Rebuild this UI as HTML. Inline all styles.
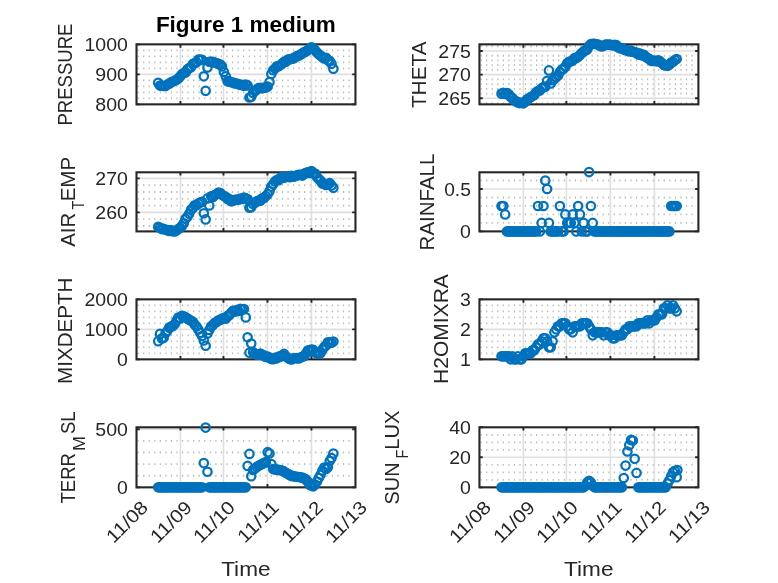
<!DOCTYPE html>
<html lang="en"><head><meta charset="utf-8"><title>Figure 1 medium</title>
<style>html,body{margin:0;padding:0;background:#fff}svg{display:block}</style></head>
<body>
<svg width="778" height="583" viewBox="0 0 778 583" font-family='"Liberation Sans", "DejaVu Sans", sans-serif' fill="#262626">
<rect width="778" height="583" fill="#fff"/>
<g><path d="M137.55 50.35H353.95M137.55 56.35H353.95M137.55 62.35H353.95M137.55 68.35H353.95M137.55 80.35H353.95M137.55 86.35H353.95M137.55 92.35H353.95M137.55 98.35H353.95" stroke="#b8b8b8" stroke-width="1.8" stroke-dasharray="1.2 4.351" fill="none"/><path d="M180.45 44.35V104.35M223.45 44.35V104.35M267.45 44.35V104.35M311.45 44.35V104.35M136.50 74.35H355.45" stroke="#dfdfdf" stroke-width="1.6" fill="none"/><rect x="136.50" y="44.35" width="218.95" height="60.00" fill="none" stroke="#262626" stroke-width="2.1"/><path d="M180.45 44.35v3.3M180.45 104.35v-3.3M223.45 44.35v3.3M223.45 104.35v-3.3M267.45 44.35v3.3M267.45 104.35v-3.3M311.45 44.35v3.3M311.45 104.35v-3.3M136.50 44.35h3.3M355.45 44.35h-3.3M136.50 74.35h3.3M355.45 74.35h-3.3M136.50 104.35h3.3M355.45 104.35h-3.3" stroke="#262626" stroke-width="1.9" fill="none"/><g fill="none" stroke="#0072BD" stroke-width="2.25"><circle cx="158.20" cy="82.84" r="4.2"/><circle cx="160.02" cy="85.56" r="4.2"/><circle cx="161.85" cy="85.77" r="4.2"/><circle cx="163.67" cy="85.95" r="4.2"/><circle cx="165.50" cy="85.98" r="4.2"/><circle cx="167.32" cy="84.52" r="4.2"/><circle cx="169.15" cy="83.79" r="4.2"/><circle cx="170.97" cy="82.35" r="4.2"/><circle cx="172.80" cy="81.56" r="4.2"/><circle cx="174.62" cy="80.74" r="4.2"/><circle cx="176.45" cy="79.78" r="4.2"/><circle cx="178.27" cy="78.58" r="4.2"/><circle cx="180.09" cy="76.40" r="4.2"/><circle cx="181.92" cy="74.23" r="4.2"/><circle cx="183.74" cy="72.96" r="4.2"/><circle cx="185.57" cy="72.39" r="4.2"/><circle cx="187.39" cy="69.39" r="4.2"/><circle cx="189.22" cy="68.07" r="4.2"/><circle cx="191.04" cy="67.23" r="4.2"/><circle cx="192.87" cy="63.92" r="4.2"/><circle cx="194.69" cy="63.27" r="4.2"/><circle cx="196.52" cy="62.22" r="4.2"/><circle cx="198.34" cy="59.67" r="4.2"/><circle cx="200.17" cy="59.49" r="4.2"/><circle cx="201.99" cy="59.83" r="4.2"/><circle cx="203.81" cy="76.30" r="4.2"/><circle cx="205.64" cy="90.80" r="4.2"/><circle cx="207.46" cy="67.40" r="4.2"/><circle cx="209.29" cy="61.75" r="4.2"/><circle cx="211.11" cy="61.84" r="4.2"/><circle cx="212.94" cy="61.82" r="4.2"/><circle cx="214.76" cy="62.78" r="4.2"/><circle cx="216.59" cy="63.02" r="4.2"/><circle cx="218.41" cy="63.88" r="4.2"/><circle cx="220.24" cy="64.63" r="4.2"/><circle cx="222.06" cy="66.44" r="4.2"/><circle cx="223.88" cy="72.02" r="4.2"/><circle cx="225.71" cy="76.27" r="4.2"/><circle cx="227.53" cy="81.27" r="4.2"/><circle cx="229.36" cy="81.39" r="4.2"/><circle cx="231.18" cy="82.21" r="4.2"/><circle cx="233.01" cy="82.54" r="4.2"/><circle cx="234.83" cy="83.54" r="4.2"/><circle cx="236.66" cy="83.48" r="4.2"/><circle cx="238.48" cy="84.10" r="4.2"/><circle cx="240.31" cy="85.02" r="4.2"/><circle cx="242.13" cy="84.93" r="4.2"/><circle cx="243.96" cy="85.80" r="4.2"/><circle cx="245.78" cy="84.46" r="4.2"/><circle cx="247.60" cy="85.44" r="4.2"/><circle cx="249.43" cy="97.50" r="4.2"/><circle cx="251.25" cy="96.69" r="4.2"/><circle cx="253.08" cy="93.00" r="4.2"/><circle cx="254.90" cy="90.93" r="4.2"/><circle cx="256.73" cy="89.55" r="4.2"/><circle cx="258.55" cy="88.02" r="4.2"/><circle cx="260.38" cy="87.70" r="4.2"/><circle cx="262.20" cy="88.34" r="4.2"/><circle cx="264.03" cy="87.64" r="4.2"/><circle cx="265.85" cy="87.58" r="4.2"/><circle cx="267.67" cy="86.50" r="4.2"/><circle cx="269.50" cy="82.11" r="4.2"/><circle cx="271.32" cy="73.99" r="4.2"/><circle cx="273.15" cy="70.27" r="4.2"/><circle cx="274.97" cy="68.57" r="4.2"/><circle cx="276.80" cy="66.23" r="4.2"/><circle cx="278.62" cy="66.28" r="4.2"/><circle cx="280.45" cy="64.98" r="4.2"/><circle cx="282.27" cy="63.55" r="4.2"/><circle cx="284.10" cy="61.75" r="4.2"/><circle cx="285.92" cy="61.68" r="4.2"/><circle cx="287.75" cy="59.67" r="4.2"/><circle cx="289.57" cy="59.25" r="4.2"/><circle cx="291.39" cy="58.80" r="4.2"/><circle cx="293.22" cy="58.56" r="4.2"/><circle cx="295.04" cy="57.37" r="4.2"/><circle cx="296.87" cy="56.00" r="4.2"/><circle cx="298.69" cy="55.64" r="4.2"/><circle cx="300.52" cy="54.58" r="4.2"/><circle cx="302.34" cy="53.44" r="4.2"/><circle cx="304.17" cy="52.11" r="4.2"/><circle cx="305.99" cy="51.47" r="4.2"/><circle cx="307.82" cy="49.99" r="4.2"/><circle cx="309.64" cy="48.75" r="4.2"/><circle cx="311.46" cy="47.29" r="4.2"/><circle cx="313.29" cy="48.59" r="4.2"/><circle cx="315.11" cy="50.26" r="4.2"/><circle cx="316.94" cy="52.53" r="4.2"/><circle cx="318.76" cy="54.34" r="4.2"/><circle cx="320.59" cy="55.58" r="4.2"/><circle cx="322.41" cy="57.30" r="4.2"/><circle cx="324.24" cy="58.46" r="4.2"/><circle cx="326.06" cy="57.75" r="4.2"/><circle cx="327.89" cy="60.17" r="4.2"/><circle cx="329.71" cy="61.03" r="4.2"/><circle cx="331.54" cy="63.77" r="4.2"/><circle cx="333.36" cy="68.64" r="4.2"/></g><text x="84.50" y="50.85" font-size="18.5" textLength="43.40" lengthAdjust="spacingAndGlyphs">1000</text><text x="95.35" y="80.85" font-size="18.5" textLength="32.55" lengthAdjust="spacingAndGlyphs">900</text><text x="95.35" y="110.85" font-size="18.5" textLength="32.55" lengthAdjust="spacingAndGlyphs">800</text><text transform="translate(72.40 125.60) rotate(-90)"><tspan x="0.00" y="0.00" font-size="21.0" textLength="102.10" lengthAdjust="spacingAndGlyphs">PRESSURE</tspan></text><text x="155.9" y="31.9" font-size="21.4" font-weight="bold" fill="#000" textLength="179.8" lengthAdjust="spacingAndGlyphs">Figure 1 medium</text></g>
<g><path d="M137.55 185.20H353.95M137.55 192.00H353.95M137.55 198.80H353.95M137.55 205.60H353.95M137.55 219.20H353.95M137.55 226.00H353.95" stroke="#b8b8b8" stroke-width="1.8" stroke-dasharray="1.2 4.351" fill="none"/><path d="M180.45 172.30V231.40M223.45 172.30V231.40M267.45 172.30V231.40M311.45 172.30V231.40M136.50 178.40H355.45M136.50 212.40H355.45" stroke="#dfdfdf" stroke-width="1.6" fill="none"/><rect x="136.50" y="172.30" width="218.95" height="59.10" fill="none" stroke="#262626" stroke-width="2.1"/><path d="M180.45 172.30v3.3M180.45 231.40v-3.3M223.45 172.30v3.3M223.45 231.40v-3.3M267.45 172.30v3.3M267.45 231.40v-3.3M311.45 172.30v3.3M311.45 231.40v-3.3M136.50 178.40h3.3M355.45 178.40h-3.3M136.50 212.40h3.3M355.45 212.40h-3.3" stroke="#262626" stroke-width="1.9" fill="none"/><g fill="none" stroke="#0072BD" stroke-width="2.25"><circle cx="158.20" cy="226.70" r="4.2"/><circle cx="160.02" cy="227.71" r="4.2"/><circle cx="161.85" cy="229.08" r="4.2"/><circle cx="163.67" cy="228.71" r="4.2"/><circle cx="165.50" cy="229.77" r="4.2"/><circle cx="167.32" cy="230.15" r="4.2"/><circle cx="169.15" cy="230.90" r="4.2"/><circle cx="170.97" cy="230.13" r="4.2"/><circle cx="172.80" cy="231.24" r="4.2"/><circle cx="174.62" cy="231.37" r="4.2"/><circle cx="176.45" cy="230.51" r="4.2"/><circle cx="178.27" cy="228.95" r="4.2"/><circle cx="180.09" cy="227.82" r="4.2"/><circle cx="181.92" cy="226.06" r="4.2"/><circle cx="183.74" cy="223.22" r="4.2"/><circle cx="185.57" cy="218.70" r="4.2"/><circle cx="187.39" cy="216.79" r="4.2"/><circle cx="189.22" cy="213.70" r="4.2"/><circle cx="191.04" cy="209.70" r="4.2"/><circle cx="192.87" cy="208.05" r="4.2"/><circle cx="194.69" cy="205.29" r="4.2"/><circle cx="196.52" cy="205.23" r="4.2"/><circle cx="198.34" cy="203.60" r="4.2"/><circle cx="200.17" cy="202.47" r="4.2"/><circle cx="201.99" cy="201.89" r="4.2"/><circle cx="203.81" cy="213.20" r="4.2"/><circle cx="205.64" cy="219.40" r="4.2"/><circle cx="207.46" cy="198.43" r="4.2"/><circle cx="209.29" cy="205.50" r="4.2"/><circle cx="211.11" cy="196.35" r="4.2"/><circle cx="212.94" cy="196.89" r="4.2"/><circle cx="214.76" cy="195.12" r="4.2"/><circle cx="216.59" cy="194.10" r="4.2"/><circle cx="218.41" cy="192.50" r="4.2"/><circle cx="220.24" cy="193.02" r="4.2"/><circle cx="222.06" cy="194.81" r="4.2"/><circle cx="223.88" cy="196.03" r="4.2"/><circle cx="225.71" cy="196.80" r="4.2"/><circle cx="227.53" cy="198.94" r="4.2"/><circle cx="229.36" cy="198.96" r="4.2"/><circle cx="231.18" cy="201.35" r="4.2"/><circle cx="233.01" cy="200.71" r="4.2"/><circle cx="234.83" cy="199.81" r="4.2"/><circle cx="236.66" cy="199.83" r="4.2"/><circle cx="238.48" cy="199.66" r="4.2"/><circle cx="240.31" cy="198.48" r="4.2"/><circle cx="242.13" cy="198.95" r="4.2"/><circle cx="243.96" cy="197.59" r="4.2"/><circle cx="245.78" cy="198.41" r="4.2"/><circle cx="247.60" cy="199.03" r="4.2"/><circle cx="249.43" cy="207.64" r="4.2"/><circle cx="251.25" cy="207.20" r="4.2"/><circle cx="253.08" cy="203.88" r="4.2"/><circle cx="254.90" cy="202.61" r="4.2"/><circle cx="256.73" cy="201.50" r="4.2"/><circle cx="258.55" cy="200.61" r="4.2"/><circle cx="260.38" cy="200.67" r="4.2"/><circle cx="262.20" cy="198.35" r="4.2"/><circle cx="264.03" cy="197.88" r="4.2"/><circle cx="265.85" cy="196.09" r="4.2"/><circle cx="267.67" cy="194.18" r="4.2"/><circle cx="269.50" cy="191.13" r="4.2"/><circle cx="271.32" cy="186.57" r="4.2"/><circle cx="273.15" cy="184.19" r="4.2"/><circle cx="274.97" cy="181.44" r="4.2"/><circle cx="276.80" cy="180.04" r="4.2"/><circle cx="278.62" cy="180.28" r="4.2"/><circle cx="280.45" cy="177.79" r="4.2"/><circle cx="282.27" cy="176.85" r="4.2"/><circle cx="284.10" cy="177.78" r="4.2"/><circle cx="285.92" cy="176.84" r="4.2"/><circle cx="287.75" cy="176.52" r="4.2"/><circle cx="289.57" cy="177.16" r="4.2"/><circle cx="291.39" cy="175.88" r="4.2"/><circle cx="293.22" cy="176.73" r="4.2"/><circle cx="295.04" cy="176.13" r="4.2"/><circle cx="296.87" cy="175.41" r="4.2"/><circle cx="298.69" cy="174.76" r="4.2"/><circle cx="300.52" cy="174.93" r="4.2"/><circle cx="302.34" cy="175.56" r="4.2"/><circle cx="304.17" cy="173.87" r="4.2"/><circle cx="305.99" cy="172.75" r="4.2"/><circle cx="307.82" cy="172.37" r="4.2"/><circle cx="309.64" cy="172.86" r="4.2"/><circle cx="311.46" cy="171.11" r="4.2"/><circle cx="313.29" cy="173.41" r="4.2"/><circle cx="315.11" cy="173.46" r="4.2"/><circle cx="316.94" cy="176.94" r="4.2"/><circle cx="318.76" cy="178.90" r="4.2"/><circle cx="320.59" cy="180.76" r="4.2"/><circle cx="322.41" cy="183.60" r="4.2"/><circle cx="324.24" cy="183.80" r="4.2"/><circle cx="326.06" cy="184.97" r="4.2"/><circle cx="327.89" cy="184.28" r="4.2"/><circle cx="329.71" cy="183.18" r="4.2"/><circle cx="331.54" cy="185.41" r="4.2"/><circle cx="333.36" cy="187.82" r="4.2"/></g><text x="95.35" y="184.90" font-size="18.5" textLength="32.55" lengthAdjust="spacingAndGlyphs">270</text><text x="95.35" y="218.90" font-size="18.5" textLength="32.55" lengthAdjust="spacingAndGlyphs">260</text><text transform="translate(74.90 246.80) rotate(-90)"><tspan x="0.00" y="0.00" font-size="21.0" textLength="34.10" lengthAdjust="spacingAndGlyphs">AIR</tspan><tspan x="37.20" y="9.30" font-size="16.2" textLength="8.90" lengthAdjust="spacingAndGlyphs">T</tspan><tspan x="45.50" y="0.00" font-size="21.0" textLength="44.40" lengthAdjust="spacingAndGlyphs">EMP</tspan></text></g>
<g><path d="M137.55 305.35H353.95M137.55 311.35H353.95M137.55 317.35H353.95M137.55 323.35H353.95M137.55 335.35H353.95M137.55 341.35H353.95M137.55 347.35H353.95M137.55 353.35H353.95" stroke="#b8b8b8" stroke-width="1.8" stroke-dasharray="1.2 4.351" fill="none"/><path d="M180.45 299.35V359.35M223.45 299.35V359.35M267.45 299.35V359.35M311.45 299.35V359.35M136.50 329.35H355.45" stroke="#dfdfdf" stroke-width="1.6" fill="none"/><rect x="136.50" y="299.35" width="218.95" height="60.00" fill="none" stroke="#262626" stroke-width="2.1"/><path d="M180.45 299.35v3.3M180.45 359.35v-3.3M223.45 299.35v3.3M223.45 359.35v-3.3M267.45 299.35v3.3M267.45 359.35v-3.3M311.45 299.35v3.3M311.45 359.35v-3.3M136.50 299.35h3.3M355.45 299.35h-3.3M136.50 329.35h3.3M355.45 329.35h-3.3M136.50 359.35h3.3M355.45 359.35h-3.3" stroke="#262626" stroke-width="1.9" fill="none"/><g fill="none" stroke="#0072BD" stroke-width="2.25"><circle cx="158.20" cy="341.19" r="4.2"/><circle cx="160.02" cy="333.86" r="4.2"/><circle cx="161.85" cy="338.36" r="4.2"/><circle cx="163.67" cy="337.84" r="4.2"/><circle cx="165.50" cy="333.27" r="4.2"/><circle cx="167.32" cy="330.98" r="4.2"/><circle cx="169.15" cy="327.80" r="4.2"/><circle cx="170.97" cy="326.54" r="4.2"/><circle cx="172.80" cy="326.09" r="4.2"/><circle cx="174.62" cy="324.30" r="4.2"/><circle cx="176.45" cy="320.69" r="4.2"/><circle cx="178.27" cy="317.57" r="4.2"/><circle cx="180.09" cy="318.45" r="4.2"/><circle cx="181.92" cy="315.83" r="4.2"/><circle cx="183.74" cy="316.21" r="4.2"/><circle cx="185.57" cy="317.23" r="4.2"/><circle cx="187.39" cy="318.61" r="4.2"/><circle cx="189.22" cy="319.68" r="4.2"/><circle cx="191.04" cy="320.76" r="4.2"/><circle cx="192.87" cy="321.85" r="4.2"/><circle cx="194.69" cy="324.54" r="4.2"/><circle cx="196.52" cy="326.60" r="4.2"/><circle cx="198.34" cy="329.45" r="4.2"/><circle cx="200.17" cy="332.82" r="4.2"/><circle cx="201.99" cy="335.95" r="4.2"/><circle cx="203.81" cy="340.50" r="4.2"/><circle cx="205.64" cy="345.80" r="4.2"/><circle cx="207.46" cy="333.50" r="4.2"/><circle cx="209.29" cy="329.98" r="4.2"/><circle cx="211.11" cy="326.38" r="4.2"/><circle cx="212.94" cy="325.06" r="4.2"/><circle cx="214.76" cy="322.71" r="4.2"/><circle cx="216.59" cy="322.01" r="4.2"/><circle cx="218.41" cy="320.20" r="4.2"/><circle cx="220.24" cy="319.94" r="4.2"/><circle cx="222.06" cy="318.50" r="4.2"/><circle cx="223.88" cy="318.04" r="4.2"/><circle cx="225.71" cy="318.69" r="4.2"/><circle cx="227.53" cy="315.93" r="4.2"/><circle cx="229.36" cy="315.15" r="4.2"/><circle cx="231.18" cy="312.66" r="4.2"/><circle cx="233.01" cy="310.77" r="4.2"/><circle cx="234.83" cy="311.76" r="4.2"/><circle cx="236.66" cy="310.06" r="4.2"/><circle cx="238.48" cy="311.01" r="4.2"/><circle cx="240.31" cy="308.85" r="4.2"/><circle cx="242.13" cy="309.36" r="4.2"/><circle cx="243.96" cy="308.97" r="4.2"/><circle cx="245.78" cy="317.39" r="4.2"/><circle cx="247.60" cy="337.26" r="4.2"/><circle cx="249.43" cy="352.65" r="4.2"/><circle cx="251.25" cy="343.55" r="4.2"/><circle cx="253.08" cy="352.32" r="4.2"/><circle cx="254.90" cy="353.67" r="4.2"/><circle cx="256.73" cy="354.80" r="4.2"/><circle cx="258.55" cy="354.75" r="4.2"/><circle cx="260.38" cy="353.61" r="4.2"/><circle cx="262.20" cy="355.10" r="4.2"/><circle cx="264.03" cy="355.41" r="4.2"/><circle cx="265.85" cy="357.01" r="4.2"/><circle cx="267.67" cy="356.51" r="4.2"/><circle cx="269.50" cy="357.90" r="4.2"/><circle cx="271.32" cy="358.86" r="4.2"/><circle cx="273.15" cy="359.21" r="4.2"/><circle cx="274.97" cy="357.86" r="4.2"/><circle cx="276.80" cy="358.34" r="4.2"/><circle cx="278.62" cy="356.45" r="4.2"/><circle cx="280.45" cy="356.66" r="4.2"/><circle cx="282.27" cy="355.32" r="4.2"/><circle cx="284.10" cy="353.93" r="4.2"/><circle cx="285.92" cy="356.26" r="4.2"/><circle cx="287.75" cy="357.81" r="4.2"/><circle cx="289.57" cy="359.03" r="4.2"/><circle cx="291.39" cy="359.54" r="4.2"/><circle cx="293.22" cy="358.26" r="4.2"/><circle cx="295.04" cy="358.22" r="4.2"/><circle cx="296.87" cy="358.07" r="4.2"/><circle cx="298.69" cy="358.49" r="4.2"/><circle cx="300.52" cy="357.51" r="4.2"/><circle cx="302.34" cy="356.71" r="4.2"/><circle cx="304.17" cy="356.02" r="4.2"/><circle cx="305.99" cy="353.41" r="4.2"/><circle cx="307.82" cy="350.64" r="4.2"/><circle cx="309.64" cy="350.13" r="4.2"/><circle cx="311.46" cy="349.52" r="4.2"/><circle cx="313.29" cy="349.90" r="4.2"/><circle cx="315.11" cy="352.59" r="4.2"/><circle cx="316.94" cy="353.06" r="4.2"/><circle cx="318.76" cy="353.63" r="4.2"/><circle cx="320.59" cy="353.03" r="4.2"/><circle cx="322.41" cy="349.62" r="4.2"/><circle cx="324.24" cy="346.92" r="4.2"/><circle cx="326.06" cy="345.56" r="4.2"/><circle cx="327.89" cy="342.25" r="4.2"/><circle cx="329.71" cy="342.59" r="4.2"/><circle cx="331.54" cy="342.62" r="4.2"/><circle cx="333.36" cy="341.55" r="4.2"/></g><text x="84.50" y="305.85" font-size="18.5" textLength="43.40" lengthAdjust="spacingAndGlyphs">2000</text><text x="84.50" y="335.85" font-size="18.5" textLength="43.40" lengthAdjust="spacingAndGlyphs">1000</text><text x="117.05" y="365.85" font-size="18.5" textLength="10.85" lengthAdjust="spacingAndGlyphs">0</text><text transform="translate(72.40 384.00) rotate(-90)"><tspan x="0.00" y="0.00" font-size="21.0" textLength="106.50" lengthAdjust="spacingAndGlyphs">MIXDEPTH</tspan></text></g>
<g><path d="M137.55 440.91H353.95M137.55 452.52H353.95M137.55 464.13H353.95M137.55 475.74H353.95" stroke="#b8b8b8" stroke-width="1.8" stroke-dasharray="1.2 4.351" fill="none"/><path d="M180.45 427.30V487.35M223.45 427.30V487.35M267.45 427.30V487.35M311.45 427.30V487.35M136.50 429.30H355.45" stroke="#dfdfdf" stroke-width="1.6" fill="none"/><rect x="136.50" y="427.30" width="218.95" height="60.05" fill="none" stroke="#262626" stroke-width="2.1"/><path d="M180.45 427.30v3.3M180.45 487.35v-3.3M223.45 427.30v3.3M223.45 487.35v-3.3M267.45 427.30v3.3M267.45 487.35v-3.3M311.45 427.30v3.3M311.45 487.35v-3.3M136.50 429.30h3.3M355.45 429.30h-3.3M136.50 487.35h3.3M355.45 487.35h-3.3" stroke="#262626" stroke-width="1.9" fill="none"/><g fill="none" stroke="#0072BD" stroke-width="2.25"><circle cx="158.20" cy="487.35" r="4.2"/><circle cx="160.02" cy="487.35" r="4.2"/><circle cx="161.85" cy="487.35" r="4.2"/><circle cx="163.67" cy="487.35" r="4.2"/><circle cx="165.50" cy="487.35" r="4.2"/><circle cx="167.32" cy="487.35" r="4.2"/><circle cx="169.15" cy="487.35" r="4.2"/><circle cx="170.97" cy="487.35" r="4.2"/><circle cx="172.80" cy="487.35" r="4.2"/><circle cx="174.62" cy="487.35" r="4.2"/><circle cx="176.45" cy="487.35" r="4.2"/><circle cx="178.27" cy="487.35" r="4.2"/><circle cx="180.09" cy="487.35" r="4.2"/><circle cx="181.92" cy="487.35" r="4.2"/><circle cx="183.74" cy="487.35" r="4.2"/><circle cx="185.57" cy="487.35" r="4.2"/><circle cx="187.39" cy="487.35" r="4.2"/><circle cx="189.22" cy="487.35" r="4.2"/><circle cx="191.04" cy="487.35" r="4.2"/><circle cx="192.87" cy="487.35" r="4.2"/><circle cx="194.69" cy="487.35" r="4.2"/><circle cx="196.52" cy="487.35" r="4.2"/><circle cx="198.34" cy="487.35" r="4.2"/><circle cx="200.17" cy="487.35" r="4.2"/><circle cx="201.99" cy="487.35" r="4.2"/><circle cx="203.81" cy="463.10" r="4.2"/><circle cx="205.64" cy="427.60" r="4.2"/><circle cx="207.46" cy="471.80" r="4.2"/><circle cx="209.29" cy="487.35" r="4.2"/><circle cx="211.11" cy="487.35" r="4.2"/><circle cx="212.94" cy="487.35" r="4.2"/><circle cx="214.76" cy="487.35" r="4.2"/><circle cx="216.59" cy="487.35" r="4.2"/><circle cx="218.41" cy="487.35" r="4.2"/><circle cx="220.24" cy="487.35" r="4.2"/><circle cx="222.06" cy="487.35" r="4.2"/><circle cx="223.88" cy="487.35" r="4.2"/><circle cx="225.71" cy="487.35" r="4.2"/><circle cx="227.53" cy="487.35" r="4.2"/><circle cx="229.36" cy="487.35" r="4.2"/><circle cx="231.18" cy="487.35" r="4.2"/><circle cx="233.01" cy="487.35" r="4.2"/><circle cx="234.83" cy="487.35" r="4.2"/><circle cx="236.66" cy="487.35" r="4.2"/><circle cx="238.48" cy="487.35" r="4.2"/><circle cx="240.31" cy="487.35" r="4.2"/><circle cx="242.13" cy="487.35" r="4.2"/><circle cx="243.96" cy="487.35" r="4.2"/><circle cx="245.78" cy="487.35" r="4.2"/><circle cx="247.60" cy="465.90" r="4.2"/><circle cx="249.43" cy="453.90" r="4.2"/><circle cx="251.25" cy="476.20" r="4.2"/><circle cx="253.08" cy="470.00" r="4.2"/><circle cx="254.90" cy="468.52" r="4.2"/><circle cx="256.73" cy="467.07" r="4.2"/><circle cx="258.55" cy="465.72" r="4.2"/><circle cx="260.38" cy="464.81" r="4.2"/><circle cx="262.20" cy="463.90" r="4.2"/><circle cx="264.03" cy="462.99" r="4.2"/><circle cx="265.85" cy="462.07" r="4.2"/><circle cx="267.67" cy="452.15" r="4.2"/><circle cx="269.50" cy="453.52" r="4.2"/><circle cx="271.32" cy="463.95" r="4.2"/><circle cx="273.15" cy="469.06" r="4.2"/><circle cx="274.97" cy="469.35" r="4.2"/><circle cx="276.80" cy="469.64" r="4.2"/><circle cx="278.62" cy="469.94" r="4.2"/><circle cx="280.45" cy="470.23" r="4.2"/><circle cx="282.27" cy="470.60" r="4.2"/><circle cx="284.10" cy="471.67" r="4.2"/><circle cx="285.92" cy="472.74" r="4.2"/><circle cx="287.75" cy="473.81" r="4.2"/><circle cx="289.57" cy="474.88" r="4.2"/><circle cx="291.39" cy="475.91" r="4.2"/><circle cx="293.22" cy="476.18" r="4.2"/><circle cx="295.04" cy="476.45" r="4.2"/><circle cx="296.87" cy="476.72" r="4.2"/><circle cx="298.69" cy="477.00" r="4.2"/><circle cx="300.52" cy="477.27" r="4.2"/><circle cx="302.34" cy="477.62" r="4.2"/><circle cx="304.17" cy="478.51" r="4.2"/><circle cx="305.99" cy="479.40" r="4.2"/><circle cx="307.82" cy="481.83" r="4.2"/><circle cx="309.64" cy="484.73" r="4.2"/><circle cx="311.46" cy="485.83" r="4.2"/><circle cx="313.29" cy="486.32" r="4.2"/><circle cx="315.11" cy="484.54" r="4.2"/><circle cx="316.94" cy="481.50" r="4.2"/><circle cx="318.76" cy="478.00" r="4.2"/><circle cx="320.59" cy="474.80" r="4.2"/><circle cx="322.41" cy="470.50" r="4.2"/><circle cx="324.24" cy="467.60" r="4.2"/><circle cx="326.06" cy="468.90" r="4.2"/><circle cx="327.89" cy="467.20" r="4.2"/><circle cx="329.71" cy="461.00" r="4.2"/><circle cx="331.54" cy="458.00" r="4.2"/><circle cx="333.36" cy="453.50" r="4.2"/></g><text x="95.35" y="435.80" font-size="18.5" textLength="32.55" lengthAdjust="spacingAndGlyphs">500</text><text x="117.05" y="493.85" font-size="18.5" textLength="10.85" lengthAdjust="spacingAndGlyphs">0</text><text transform="translate(74.90 503.50) rotate(-90)"><tspan x="0.00" y="0.00" font-size="21.0" textLength="50.50" lengthAdjust="spacingAndGlyphs">TERR</tspan><tspan x="52.50" y="10.30" font-size="16.2" textLength="15.00" lengthAdjust="spacingAndGlyphs">M</tspan><tspan x="69.40" y="0.00" font-size="21.0" textLength="22.60" lengthAdjust="spacingAndGlyphs">SL</tspan></text><text transform="translate(113.84 543.90) rotate(-45)" font-size="18.5" textLength="50.0" lengthAdjust="spacingAndGlyphs">11/08</text><text transform="translate(157.79 543.90) rotate(-45)" font-size="18.5" textLength="50.0" lengthAdjust="spacingAndGlyphs">11/09</text><text transform="translate(200.79 543.90) rotate(-45)" font-size="18.5" textLength="50.0" lengthAdjust="spacingAndGlyphs">11/10</text><text transform="translate(244.79 543.90) rotate(-45)" font-size="18.5" textLength="50.0" lengthAdjust="spacingAndGlyphs">11/11</text><text transform="translate(288.79 543.90) rotate(-45)" font-size="18.5" textLength="50.0" lengthAdjust="spacingAndGlyphs">11/12</text><text transform="translate(332.79 543.90) rotate(-45)" font-size="18.5" textLength="50.0" lengthAdjust="spacingAndGlyphs">11/13</text><text x="221.17" y="575.6" font-size="20.4" textLength="49.4" lengthAdjust="spacingAndGlyphs">Time</text></g>
<g><path d="M480.50 46.27H696.90M480.50 55.73H696.90M480.50 60.46H696.90M480.50 65.19H696.90M480.50 69.92H696.90M480.50 79.38H696.90M480.50 84.11H696.90M480.50 88.84H696.90M480.50 93.57H696.90M480.50 103.03H696.90" stroke="#b8b8b8" stroke-width="1.8" stroke-dasharray="1.2 4.351" fill="none"/><path d="M523.40 44.35V104.35M566.40 44.35V104.35M610.40 44.35V104.35M654.40 44.35V104.35M479.45 51.00H698.40M479.45 74.65H698.40M479.45 98.30H698.40" stroke="#dfdfdf" stroke-width="1.6" fill="none"/><rect x="479.45" y="44.35" width="218.95" height="60.00" fill="none" stroke="#262626" stroke-width="2.1"/><path d="M523.40 44.35v3.3M523.40 104.35v-3.3M566.40 44.35v3.3M566.40 104.35v-3.3M610.40 44.35v3.3M610.40 104.35v-3.3M654.40 44.35v3.3M654.40 104.35v-3.3M479.45 51.00h3.3M698.40 51.00h-3.3M479.45 74.65h3.3M698.40 74.65h-3.3M479.45 98.30h3.3M698.40 98.30h-3.3" stroke="#262626" stroke-width="1.9" fill="none"/><g fill="none" stroke="#0072BD" stroke-width="2.25"><circle cx="501.50" cy="93.63" r="4.2"/><circle cx="503.32" cy="92.81" r="4.2"/><circle cx="505.15" cy="93.94" r="4.2"/><circle cx="506.97" cy="93.08" r="4.2"/><circle cx="508.80" cy="94.34" r="4.2"/><circle cx="510.62" cy="96.99" r="4.2"/><circle cx="512.45" cy="98.12" r="4.2"/><circle cx="514.27" cy="100.25" r="4.2"/><circle cx="516.10" cy="101.38" r="4.2"/><circle cx="517.92" cy="102.37" r="4.2"/><circle cx="519.75" cy="103.09" r="4.2"/><circle cx="521.57" cy="102.56" r="4.2"/><circle cx="523.39" cy="103.32" r="4.2"/><circle cx="525.22" cy="101.74" r="4.2"/><circle cx="527.04" cy="99.36" r="4.2"/><circle cx="528.87" cy="98.58" r="4.2"/><circle cx="530.69" cy="97.04" r="4.2"/><circle cx="532.52" cy="96.02" r="4.2"/><circle cx="534.34" cy="94.93" r="4.2"/><circle cx="536.17" cy="92.16" r="4.2"/><circle cx="537.99" cy="91.04" r="4.2"/><circle cx="539.82" cy="90.51" r="4.2"/><circle cx="541.64" cy="88.27" r="4.2"/><circle cx="543.47" cy="87.19" r="4.2"/><circle cx="545.29" cy="86.61" r="4.2"/><circle cx="547.11" cy="80.90" r="4.2"/><circle cx="548.94" cy="70.40" r="4.2"/><circle cx="550.76" cy="83.47" r="4.2"/><circle cx="552.59" cy="80.17" r="4.2"/><circle cx="554.41" cy="78.92" r="4.2"/><circle cx="556.24" cy="77.26" r="4.2"/><circle cx="558.06" cy="75.43" r="4.2"/><circle cx="559.89" cy="72.03" r="4.2"/><circle cx="561.71" cy="69.68" r="4.2"/><circle cx="563.54" cy="68.77" r="4.2"/><circle cx="565.36" cy="66.65" r="4.2"/><circle cx="567.18" cy="63.19" r="4.2"/><circle cx="569.01" cy="61.88" r="4.2"/><circle cx="570.83" cy="61.30" r="4.2"/><circle cx="572.66" cy="60.45" r="4.2"/><circle cx="574.48" cy="58.16" r="4.2"/><circle cx="576.31" cy="57.94" r="4.2"/><circle cx="578.13" cy="56.85" r="4.2"/><circle cx="579.96" cy="55.03" r="4.2"/><circle cx="581.78" cy="52.98" r="4.2"/><circle cx="583.61" cy="51.40" r="4.2"/><circle cx="585.43" cy="50.35" r="4.2"/><circle cx="587.26" cy="49.37" r="4.2"/><circle cx="589.08" cy="46.06" r="4.2"/><circle cx="590.90" cy="44.07" r="4.2"/><circle cx="592.73" cy="43.84" r="4.2"/><circle cx="594.55" cy="43.72" r="4.2"/><circle cx="596.38" cy="44.29" r="4.2"/><circle cx="598.20" cy="44.48" r="4.2"/><circle cx="600.03" cy="45.80" r="4.2"/><circle cx="601.85" cy="46.52" r="4.2"/><circle cx="603.68" cy="45.65" r="4.2"/><circle cx="605.50" cy="44.67" r="4.2"/><circle cx="607.33" cy="44.56" r="4.2"/><circle cx="609.15" cy="44.58" r="4.2"/><circle cx="610.98" cy="44.75" r="4.2"/><circle cx="612.80" cy="45.44" r="4.2"/><circle cx="614.62" cy="44.83" r="4.2"/><circle cx="616.45" cy="45.16" r="4.2"/><circle cx="618.27" cy="47.39" r="4.2"/><circle cx="620.10" cy="48.30" r="4.2"/><circle cx="621.92" cy="48.14" r="4.2"/><circle cx="623.75" cy="49.36" r="4.2"/><circle cx="625.57" cy="50.19" r="4.2"/><circle cx="627.40" cy="50.39" r="4.2"/><circle cx="629.22" cy="51.52" r="4.2"/><circle cx="631.05" cy="50.65" r="4.2"/><circle cx="632.87" cy="51.69" r="4.2"/><circle cx="634.69" cy="52.28" r="4.2"/><circle cx="636.52" cy="52.57" r="4.2"/><circle cx="638.34" cy="54.57" r="4.2"/><circle cx="640.17" cy="53.57" r="4.2"/><circle cx="641.99" cy="55.30" r="4.2"/><circle cx="643.82" cy="54.88" r="4.2"/><circle cx="645.64" cy="56.68" r="4.2"/><circle cx="647.47" cy="58.06" r="4.2"/><circle cx="649.29" cy="58.92" r="4.2"/><circle cx="651.12" cy="60.81" r="4.2"/><circle cx="652.94" cy="60.96" r="4.2"/><circle cx="654.76" cy="60.57" r="4.2"/><circle cx="656.59" cy="61.33" r="4.2"/><circle cx="658.41" cy="60.29" r="4.2"/><circle cx="660.24" cy="61.41" r="4.2"/><circle cx="662.06" cy="63.26" r="4.2"/><circle cx="663.89" cy="64.86" r="4.2"/><circle cx="665.71" cy="65.42" r="4.2"/><circle cx="667.54" cy="65.82" r="4.2"/><circle cx="669.36" cy="64.78" r="4.2"/><circle cx="671.19" cy="62.60" r="4.2"/><circle cx="673.01" cy="61.72" r="4.2"/><circle cx="674.84" cy="60.07" r="4.2"/><circle cx="676.66" cy="59.06" r="4.2"/></g><text x="438.30" y="57.50" font-size="18.5" textLength="32.55" lengthAdjust="spacingAndGlyphs">275</text><text x="438.30" y="81.15" font-size="18.5" textLength="32.55" lengthAdjust="spacingAndGlyphs">270</text><text x="438.30" y="104.80" font-size="18.5" textLength="32.55" lengthAdjust="spacingAndGlyphs">265</text><text transform="translate(426.30 108.10) rotate(-90)"><tspan x="0.00" y="0.00" font-size="21.0" textLength="66.70" lengthAdjust="spacingAndGlyphs">THETA</tspan></text></g>
<g><path d="M480.50 180.52H696.90M480.50 197.48H696.90M480.50 205.96H696.90M480.50 214.44H696.90M480.50 222.92H696.90" stroke="#b8b8b8" stroke-width="1.8" stroke-dasharray="1.2 4.351" fill="none"/><path d="M523.40 172.30V231.40M566.40 172.30V231.40M610.40 172.30V231.40M654.40 172.30V231.40M479.45 189.00H698.40" stroke="#dfdfdf" stroke-width="1.6" fill="none"/><rect x="479.45" y="172.30" width="218.95" height="59.10" fill="none" stroke="#262626" stroke-width="2.1"/><path d="M523.40 172.30v3.3M523.40 231.40v-3.3M566.40 172.30v3.3M566.40 231.40v-3.3M610.40 172.30v3.3M610.40 231.40v-3.3M654.40 172.30v3.3M654.40 231.40v-3.3M479.45 189.00h3.3M698.40 189.00h-3.3M479.45 231.40h3.3M698.40 231.40h-3.3" stroke="#262626" stroke-width="1.9" fill="none"/><g fill="none" stroke="#0072BD" stroke-width="2.25"><circle cx="501.50" cy="205.96" r="4.2"/><circle cx="503.32" cy="205.96" r="4.2"/><circle cx="505.15" cy="214.44" r="4.2"/><circle cx="506.97" cy="231.40" r="4.2"/><circle cx="508.80" cy="231.40" r="4.2"/><circle cx="510.62" cy="231.40" r="4.2"/><circle cx="512.45" cy="231.40" r="4.2"/><circle cx="514.27" cy="231.40" r="4.2"/><circle cx="516.10" cy="231.40" r="4.2"/><circle cx="517.92" cy="231.40" r="4.2"/><circle cx="519.75" cy="231.40" r="4.2"/><circle cx="521.57" cy="231.40" r="4.2"/><circle cx="523.39" cy="231.40" r="4.2"/><circle cx="525.22" cy="231.40" r="4.2"/><circle cx="527.04" cy="231.40" r="4.2"/><circle cx="528.87" cy="231.40" r="4.2"/><circle cx="530.69" cy="231.40" r="4.2"/><circle cx="532.52" cy="231.40" r="4.2"/><circle cx="534.34" cy="231.40" r="4.2"/><circle cx="536.17" cy="231.40" r="4.2"/><circle cx="537.99" cy="205.96" r="4.2"/><circle cx="539.82" cy="231.40" r="4.2"/><circle cx="541.64" cy="222.92" r="4.2"/><circle cx="543.47" cy="205.96" r="4.2"/><circle cx="545.29" cy="180.52" r="4.2"/><circle cx="547.11" cy="189.00" r="4.2"/><circle cx="548.94" cy="222.92" r="4.2"/><circle cx="550.76" cy="231.40" r="4.2"/><circle cx="552.59" cy="231.40" r="4.2"/><circle cx="554.41" cy="231.40" r="4.2"/><circle cx="556.24" cy="231.40" r="4.2"/><circle cx="558.06" cy="231.40" r="4.2"/><circle cx="559.89" cy="205.96" r="4.2"/><circle cx="561.71" cy="231.40" r="4.2"/><circle cx="563.54" cy="231.40" r="4.2"/><circle cx="565.36" cy="214.44" r="4.2"/><circle cx="567.18" cy="222.92" r="4.2"/><circle cx="569.01" cy="222.92" r="4.2"/><circle cx="570.83" cy="222.92" r="4.2"/><circle cx="572.66" cy="214.44" r="4.2"/><circle cx="574.48" cy="222.92" r="4.2"/><circle cx="576.31" cy="231.40" r="4.2"/><circle cx="578.13" cy="205.96" r="4.2"/><circle cx="579.96" cy="214.44" r="4.2"/><circle cx="581.78" cy="231.40" r="4.2"/><circle cx="583.61" cy="222.92" r="4.2"/><circle cx="585.43" cy="231.40" r="4.2"/><circle cx="587.26" cy="231.40" r="4.2"/><circle cx="589.08" cy="172.05" r="4.2"/><circle cx="590.90" cy="205.96" r="4.2"/><circle cx="592.73" cy="222.92" r="4.2"/><circle cx="594.55" cy="231.40" r="4.2"/><circle cx="596.38" cy="231.40" r="4.2"/><circle cx="598.20" cy="231.40" r="4.2"/><circle cx="600.03" cy="231.40" r="4.2"/><circle cx="601.85" cy="231.40" r="4.2"/><circle cx="603.68" cy="231.40" r="4.2"/><circle cx="605.50" cy="231.40" r="4.2"/><circle cx="607.33" cy="231.40" r="4.2"/><circle cx="609.15" cy="231.40" r="4.2"/><circle cx="610.98" cy="231.40" r="4.2"/><circle cx="612.80" cy="231.40" r="4.2"/><circle cx="614.62" cy="231.40" r="4.2"/><circle cx="616.45" cy="231.40" r="4.2"/><circle cx="618.27" cy="231.40" r="4.2"/><circle cx="620.10" cy="231.40" r="4.2"/><circle cx="621.92" cy="231.40" r="4.2"/><circle cx="623.75" cy="231.40" r="4.2"/><circle cx="625.57" cy="231.40" r="4.2"/><circle cx="627.40" cy="231.40" r="4.2"/><circle cx="629.22" cy="231.40" r="4.2"/><circle cx="631.05" cy="231.40" r="4.2"/><circle cx="632.87" cy="231.40" r="4.2"/><circle cx="634.69" cy="231.40" r="4.2"/><circle cx="636.52" cy="231.40" r="4.2"/><circle cx="638.34" cy="231.40" r="4.2"/><circle cx="640.17" cy="231.40" r="4.2"/><circle cx="641.99" cy="231.40" r="4.2"/><circle cx="643.82" cy="231.40" r="4.2"/><circle cx="645.64" cy="231.40" r="4.2"/><circle cx="647.47" cy="231.40" r="4.2"/><circle cx="649.29" cy="231.40" r="4.2"/><circle cx="651.12" cy="231.40" r="4.2"/><circle cx="652.94" cy="231.40" r="4.2"/><circle cx="654.76" cy="231.40" r="4.2"/><circle cx="656.59" cy="231.40" r="4.2"/><circle cx="658.41" cy="231.40" r="4.2"/><circle cx="660.24" cy="231.40" r="4.2"/><circle cx="662.06" cy="231.40" r="4.2"/><circle cx="663.89" cy="231.40" r="4.2"/><circle cx="665.71" cy="231.40" r="4.2"/><circle cx="667.54" cy="231.40" r="4.2"/><circle cx="669.36" cy="231.40" r="4.2"/><circle cx="671.19" cy="205.96" r="4.2"/><circle cx="673.01" cy="205.96" r="4.2"/><circle cx="674.84" cy="205.96" r="4.2"/><circle cx="676.66" cy="205.96" r="4.2"/></g><text x="444.19" y="195.50" font-size="18.5" textLength="26.66" lengthAdjust="spacingAndGlyphs">0.5</text><text x="460.00" y="237.90" font-size="18.5" textLength="10.85" lengthAdjust="spacingAndGlyphs">0</text><text transform="translate(434.10 250.40) rotate(-90)"><tspan x="0.00" y="0.00" font-size="21.0" textLength="96.80" lengthAdjust="spacingAndGlyphs">RAINFALL</tspan></text></g>
<g><path d="M480.50 305.35H696.90M480.50 311.35H696.90M480.50 317.35H696.90M480.50 323.35H696.90M480.50 335.35H696.90M480.50 341.35H696.90M480.50 347.35H696.90M480.50 353.35H696.90" stroke="#b8b8b8" stroke-width="1.8" stroke-dasharray="1.2 4.351" fill="none"/><path d="M523.40 299.35V359.35M566.40 299.35V359.35M610.40 299.35V359.35M654.40 299.35V359.35M479.45 329.35H698.40" stroke="#dfdfdf" stroke-width="1.6" fill="none"/><rect x="479.45" y="299.35" width="218.95" height="60.00" fill="none" stroke="#262626" stroke-width="2.1"/><path d="M523.40 299.35v3.3M523.40 359.35v-3.3M566.40 299.35v3.3M566.40 359.35v-3.3M610.40 299.35v3.3M610.40 359.35v-3.3M654.40 299.35v3.3M654.40 359.35v-3.3M479.45 299.35h3.3M698.40 299.35h-3.3M479.45 329.35h3.3M698.40 329.35h-3.3M479.45 359.35h3.3M698.40 359.35h-3.3" stroke="#262626" stroke-width="1.9" fill="none"/><g fill="none" stroke="#0072BD" stroke-width="2.25"><circle cx="501.50" cy="356.35" r="4.2"/><circle cx="503.32" cy="356.35" r="4.2"/><circle cx="505.15" cy="356.35" r="4.2"/><circle cx="506.97" cy="356.35" r="4.2"/><circle cx="508.80" cy="356.35" r="4.2"/><circle cx="510.62" cy="359.35" r="4.2"/><circle cx="512.45" cy="356.35" r="4.2"/><circle cx="514.27" cy="359.35" r="4.2"/><circle cx="516.10" cy="359.35" r="4.2"/><circle cx="517.92" cy="356.35" r="4.2"/><circle cx="519.75" cy="359.35" r="4.2"/><circle cx="521.57" cy="359.35" r="4.2"/><circle cx="523.39" cy="356.35" r="4.2"/><circle cx="525.22" cy="353.35" r="4.2"/><circle cx="527.04" cy="353.35" r="4.2"/><circle cx="528.87" cy="353.35" r="4.2"/><circle cx="530.69" cy="353.35" r="4.2"/><circle cx="532.52" cy="350.35" r="4.2"/><circle cx="534.34" cy="350.35" r="4.2"/><circle cx="536.17" cy="347.35" r="4.2"/><circle cx="537.99" cy="344.35" r="4.2"/><circle cx="539.82" cy="344.35" r="4.2"/><circle cx="541.64" cy="341.35" r="4.2"/><circle cx="543.47" cy="338.35" r="4.2"/><circle cx="545.29" cy="338.35" r="4.2"/><circle cx="547.11" cy="341.35" r="4.2"/><circle cx="548.94" cy="347.35" r="4.2"/><circle cx="550.76" cy="347.35" r="4.2"/><circle cx="552.59" cy="341.35" r="4.2"/><circle cx="554.41" cy="332.35" r="4.2"/><circle cx="556.24" cy="329.35" r="4.2"/><circle cx="558.06" cy="326.35" r="4.2"/><circle cx="559.89" cy="326.35" r="4.2"/><circle cx="561.71" cy="323.35" r="4.2"/><circle cx="563.54" cy="323.35" r="4.2"/><circle cx="565.36" cy="323.35" r="4.2"/><circle cx="567.18" cy="326.35" r="4.2"/><circle cx="569.01" cy="329.35" r="4.2"/><circle cx="570.83" cy="329.35" r="4.2"/><circle cx="572.66" cy="332.35" r="4.2"/><circle cx="574.48" cy="326.35" r="4.2"/><circle cx="576.31" cy="326.35" r="4.2"/><circle cx="578.13" cy="326.35" r="4.2"/><circle cx="579.96" cy="326.35" r="4.2"/><circle cx="581.78" cy="323.35" r="4.2"/><circle cx="583.61" cy="323.35" r="4.2"/><circle cx="585.43" cy="323.35" r="4.2"/><circle cx="587.26" cy="323.35" r="4.2"/><circle cx="589.08" cy="326.35" r="4.2"/><circle cx="590.90" cy="329.35" r="4.2"/><circle cx="592.73" cy="335.35" r="4.2"/><circle cx="594.55" cy="332.35" r="4.2"/><circle cx="596.38" cy="332.35" r="4.2"/><circle cx="598.20" cy="332.35" r="4.2"/><circle cx="600.03" cy="332.35" r="4.2"/><circle cx="601.85" cy="332.35" r="4.2"/><circle cx="603.68" cy="335.35" r="4.2"/><circle cx="605.50" cy="332.35" r="4.2"/><circle cx="607.33" cy="332.35" r="4.2"/><circle cx="609.15" cy="335.35" r="4.2"/><circle cx="610.98" cy="335.35" r="4.2"/><circle cx="612.80" cy="338.35" r="4.2"/><circle cx="614.62" cy="338.35" r="4.2"/><circle cx="616.45" cy="335.35" r="4.2"/><circle cx="618.27" cy="335.35" r="4.2"/><circle cx="620.10" cy="335.35" r="4.2"/><circle cx="621.92" cy="335.35" r="4.2"/><circle cx="623.75" cy="332.35" r="4.2"/><circle cx="625.57" cy="329.35" r="4.2"/><circle cx="627.40" cy="329.35" r="4.2"/><circle cx="629.22" cy="326.35" r="4.2"/><circle cx="631.05" cy="326.35" r="4.2"/><circle cx="632.87" cy="326.35" r="4.2"/><circle cx="634.69" cy="326.35" r="4.2"/><circle cx="636.52" cy="326.35" r="4.2"/><circle cx="638.34" cy="323.35" r="4.2"/><circle cx="640.17" cy="323.35" r="4.2"/><circle cx="641.99" cy="323.35" r="4.2"/><circle cx="643.82" cy="323.35" r="4.2"/><circle cx="645.64" cy="323.35" r="4.2"/><circle cx="647.47" cy="320.35" r="4.2"/><circle cx="649.29" cy="323.35" r="4.2"/><circle cx="651.12" cy="320.35" r="4.2"/><circle cx="652.94" cy="320.35" r="4.2"/><circle cx="654.76" cy="320.35" r="4.2"/><circle cx="656.59" cy="317.35" r="4.2"/><circle cx="658.41" cy="314.35" r="4.2"/><circle cx="660.24" cy="314.35" r="4.2"/><circle cx="662.06" cy="314.35" r="4.2"/><circle cx="663.89" cy="308.35" r="4.2"/><circle cx="665.71" cy="308.35" r="4.2"/><circle cx="667.54" cy="305.35" r="4.2"/><circle cx="669.36" cy="308.35" r="4.2"/><circle cx="671.19" cy="308.35" r="4.2"/><circle cx="673.01" cy="305.35" r="4.2"/><circle cx="674.84" cy="308.35" r="4.2"/><circle cx="676.66" cy="311.35" r="4.2"/></g><text x="460.00" y="305.85" font-size="18.5" textLength="10.85" lengthAdjust="spacingAndGlyphs">3</text><text x="460.00" y="335.85" font-size="18.5" textLength="10.85" lengthAdjust="spacingAndGlyphs">2</text><text x="460.00" y="365.85" font-size="18.5" textLength="10.85" lengthAdjust="spacingAndGlyphs">1</text><text transform="translate(448.10 384.00) rotate(-90)"><tspan x="0.00" y="0.00" font-size="21.0" textLength="109.90" lengthAdjust="spacingAndGlyphs">H2OMIXRA</tspan></text></g>
<g><path d="M480.50 434.81H696.90M480.50 442.31H696.90M480.50 449.82H696.90M480.50 464.83H696.90M480.50 472.34H696.90M480.50 479.84H696.90" stroke="#b8b8b8" stroke-width="1.8" stroke-dasharray="1.2 4.351" fill="none"/><path d="M523.40 427.30V487.35M566.40 427.30V487.35M610.40 427.30V487.35M654.40 427.30V487.35M479.45 457.30H698.40" stroke="#dfdfdf" stroke-width="1.6" fill="none"/><rect x="479.45" y="427.30" width="218.95" height="60.05" fill="none" stroke="#262626" stroke-width="2.1"/><path d="M523.40 427.30v3.3M523.40 487.35v-3.3M566.40 427.30v3.3M566.40 487.35v-3.3M610.40 427.30v3.3M610.40 487.35v-3.3M654.40 427.30v3.3M654.40 487.35v-3.3M479.45 427.30h3.3M698.40 427.30h-3.3M479.45 457.30h3.3M698.40 457.30h-3.3M479.45 487.35h3.3M698.40 487.35h-3.3" stroke="#262626" stroke-width="1.9" fill="none"/><g fill="none" stroke="#0072BD" stroke-width="2.25"><circle cx="501.50" cy="487.35" r="4.2"/><circle cx="503.32" cy="487.35" r="4.2"/><circle cx="505.15" cy="487.35" r="4.2"/><circle cx="506.97" cy="487.35" r="4.2"/><circle cx="508.80" cy="487.35" r="4.2"/><circle cx="510.62" cy="487.35" r="4.2"/><circle cx="512.45" cy="487.35" r="4.2"/><circle cx="514.27" cy="487.35" r="4.2"/><circle cx="516.10" cy="487.35" r="4.2"/><circle cx="517.92" cy="487.35" r="4.2"/><circle cx="519.75" cy="487.35" r="4.2"/><circle cx="521.57" cy="487.35" r="4.2"/><circle cx="523.39" cy="487.35" r="4.2"/><circle cx="525.22" cy="487.35" r="4.2"/><circle cx="527.04" cy="487.35" r="4.2"/><circle cx="528.87" cy="487.35" r="4.2"/><circle cx="530.69" cy="487.35" r="4.2"/><circle cx="532.52" cy="487.35" r="4.2"/><circle cx="534.34" cy="487.35" r="4.2"/><circle cx="536.17" cy="487.35" r="4.2"/><circle cx="537.99" cy="487.35" r="4.2"/><circle cx="539.82" cy="487.35" r="4.2"/><circle cx="541.64" cy="487.35" r="4.2"/><circle cx="543.47" cy="487.35" r="4.2"/><circle cx="545.29" cy="487.35" r="4.2"/><circle cx="547.11" cy="487.35" r="4.2"/><circle cx="548.94" cy="487.35" r="4.2"/><circle cx="550.76" cy="487.35" r="4.2"/><circle cx="552.59" cy="487.35" r="4.2"/><circle cx="554.41" cy="487.35" r="4.2"/><circle cx="556.24" cy="487.35" r="4.2"/><circle cx="558.06" cy="487.35" r="4.2"/><circle cx="559.89" cy="487.35" r="4.2"/><circle cx="561.71" cy="487.35" r="4.2"/><circle cx="563.54" cy="487.35" r="4.2"/><circle cx="565.36" cy="487.35" r="4.2"/><circle cx="567.18" cy="487.35" r="4.2"/><circle cx="569.01" cy="487.35" r="4.2"/><circle cx="570.83" cy="487.35" r="4.2"/><circle cx="572.66" cy="487.35" r="4.2"/><circle cx="574.48" cy="487.35" r="4.2"/><circle cx="576.31" cy="487.35" r="4.2"/><circle cx="578.13" cy="487.35" r="4.2"/><circle cx="579.96" cy="487.35" r="4.2"/><circle cx="581.78" cy="487.35" r="4.2"/><circle cx="583.61" cy="487.35" r="4.2"/><circle cx="585.43" cy="485.85" r="4.2"/><circle cx="587.26" cy="482.55" r="4.2"/><circle cx="589.08" cy="480.74" r="4.2"/><circle cx="590.90" cy="482.55" r="4.2"/><circle cx="592.73" cy="485.85" r="4.2"/><circle cx="594.55" cy="487.35" r="4.2"/><circle cx="596.38" cy="487.35" r="4.2"/><circle cx="598.20" cy="487.35" r="4.2"/><circle cx="600.03" cy="487.35" r="4.2"/><circle cx="601.85" cy="487.35" r="4.2"/><circle cx="603.68" cy="487.35" r="4.2"/><circle cx="605.50" cy="487.35" r="4.2"/><circle cx="607.33" cy="487.35" r="4.2"/><circle cx="609.15" cy="487.35" r="4.2"/><circle cx="610.98" cy="487.35" r="4.2"/><circle cx="612.80" cy="487.35" r="4.2"/><circle cx="614.62" cy="487.35" r="4.2"/><circle cx="616.45" cy="487.35" r="4.2"/><circle cx="618.27" cy="487.35" r="4.2"/><circle cx="620.10" cy="487.35" r="4.2"/><circle cx="621.92" cy="487.35" r="4.2"/><circle cx="623.75" cy="478.04" r="4.2"/><circle cx="625.57" cy="465.58" r="4.2"/><circle cx="627.40" cy="451.47" r="4.2"/><circle cx="629.22" cy="445.31" r="4.2"/><circle cx="631.05" cy="439.91" r="4.2"/><circle cx="632.87" cy="440.51" r="4.2"/><circle cx="634.69" cy="458.83" r="4.2"/><circle cx="636.52" cy="472.94" r="4.2"/><circle cx="638.34" cy="487.35" r="4.2"/><circle cx="640.17" cy="487.35" r="4.2"/><circle cx="641.99" cy="487.35" r="4.2"/><circle cx="643.82" cy="487.35" r="4.2"/><circle cx="645.64" cy="487.35" r="4.2"/><circle cx="647.47" cy="487.35" r="4.2"/><circle cx="649.29" cy="487.35" r="4.2"/><circle cx="651.12" cy="487.35" r="4.2"/><circle cx="652.94" cy="487.35" r="4.2"/><circle cx="654.76" cy="487.35" r="4.2"/><circle cx="656.59" cy="487.35" r="4.2"/><circle cx="658.41" cy="487.35" r="4.2"/><circle cx="660.24" cy="487.35" r="4.2"/><circle cx="662.06" cy="487.35" r="4.2"/><circle cx="663.89" cy="487.35" r="4.2"/><circle cx="665.71" cy="487.35" r="4.2"/><circle cx="667.54" cy="483.45" r="4.2"/><circle cx="669.36" cy="480.29" r="4.2"/><circle cx="671.19" cy="476.09" r="4.2"/><circle cx="673.01" cy="472.34" r="4.2"/><circle cx="674.84" cy="470.84" r="4.2"/><circle cx="676.66" cy="477.14" r="4.2"/><circle cx="677.40" cy="470.10" r="4.2"/></g><text x="449.15" y="433.80" font-size="18.5" textLength="21.70" lengthAdjust="spacingAndGlyphs">40</text><text x="449.15" y="463.80" font-size="18.5" textLength="21.70" lengthAdjust="spacingAndGlyphs">20</text><text x="460.00" y="493.85" font-size="18.5" textLength="10.85" lengthAdjust="spacingAndGlyphs">0</text><text transform="translate(398.80 504.40) rotate(-90)"><tspan x="0.00" y="0.00" font-size="21.0" textLength="42.00" lengthAdjust="spacingAndGlyphs">SUN</tspan><tspan x="45.80" y="8.90" font-size="16.2" textLength="8.80" lengthAdjust="spacingAndGlyphs">F</tspan><tspan x="54.70" y="0.00" font-size="21.0" textLength="39.20" lengthAdjust="spacingAndGlyphs">LUX</tspan></text><text transform="translate(456.79 543.90) rotate(-45)" font-size="18.5" textLength="50.0" lengthAdjust="spacingAndGlyphs">11/08</text><text transform="translate(500.75 543.90) rotate(-45)" font-size="18.5" textLength="50.0" lengthAdjust="spacingAndGlyphs">11/09</text><text transform="translate(543.75 543.90) rotate(-45)" font-size="18.5" textLength="50.0" lengthAdjust="spacingAndGlyphs">11/10</text><text transform="translate(587.75 543.90) rotate(-45)" font-size="18.5" textLength="50.0" lengthAdjust="spacingAndGlyphs">11/11</text><text transform="translate(631.75 543.90) rotate(-45)" font-size="18.5" textLength="50.0" lengthAdjust="spacingAndGlyphs">11/12</text><text transform="translate(675.75 543.90) rotate(-45)" font-size="18.5" textLength="50.0" lengthAdjust="spacingAndGlyphs">11/13</text><text x="564.12" y="575.6" font-size="20.4" textLength="49.4" lengthAdjust="spacingAndGlyphs">Time</text></g>
</svg>
</body></html>
